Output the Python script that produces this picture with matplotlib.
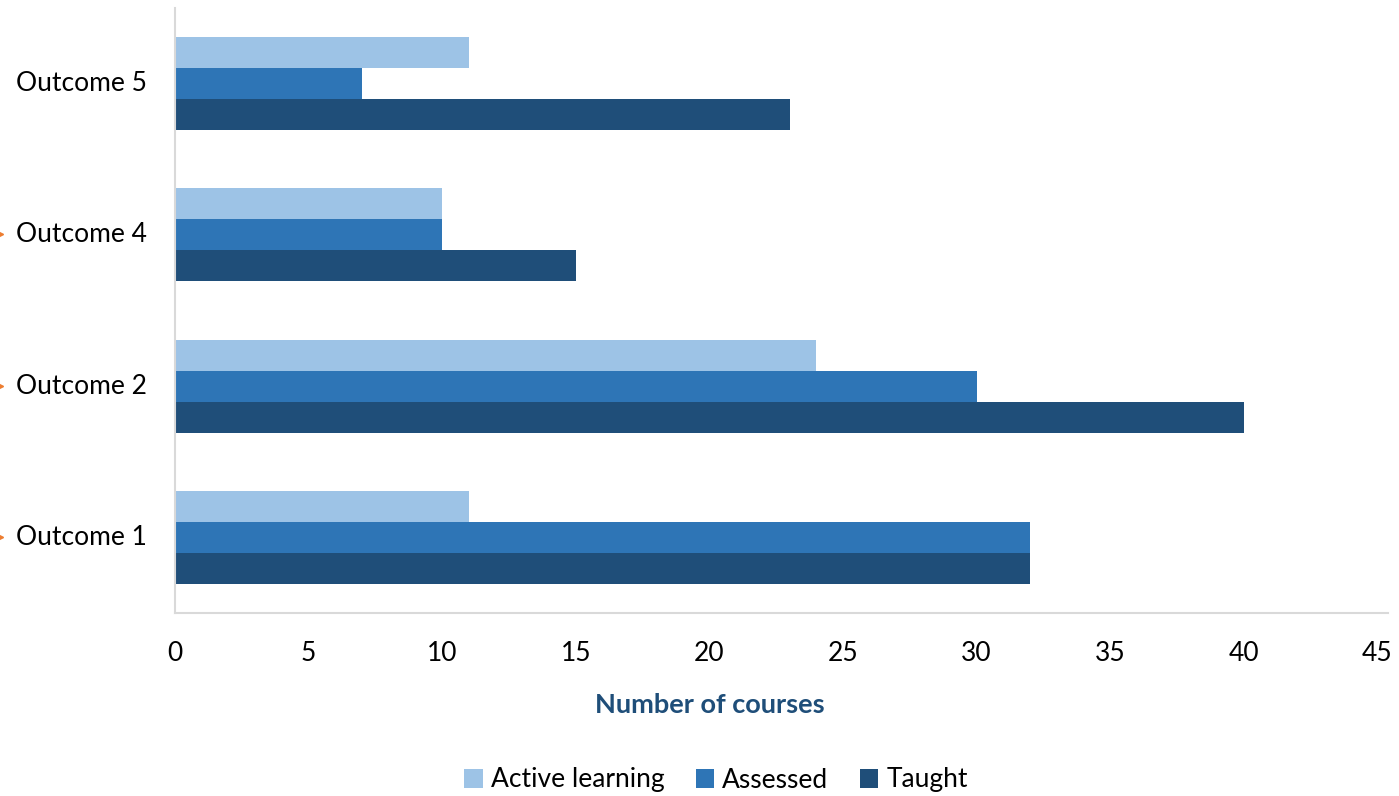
import matplotlib
matplotlib.use("Agg")
import matplotlib.pyplot as plt
import numpy as np

categories = ["Outcome 1", "Outcome 2", "Outcome 4", "Outcome 5"]
active_learning = [11, 24, 10, 11]
assessed = [32, 30, 10, 7]
taught = [32, 40, 15, 23]
series_names = ["Active learning", "Assessed", "Taught"]
colors = ["#9DC3E6", "#2E75B6", "#1F4E79"]
xticks = [0, 5, 10, 15, 20, 25, 30, 35, 40, 45]

plt.rcParams['font.family'] = ['Lato', 'DejaVu Sans']

fig = plt.figure(figsize=(13.99, 7.96), dpi=100)
ax = fig.add_axes([175/1399, 1 - 613/796, (1388-175)/1399, (613-8)/796])

y = np.arange(len(categories))
h = 0.205
series = [active_learning, assessed, taught]
offsets = [h, 0, -h]
for vals, off, c, name in zip(series, offsets, colors, series_names):
    ax.barh(y + off, vals, height=h, color=c, label=name, edgecolor='none')

ax.set_ylim(-0.5, 3.5)
ax.set_xlim(0, 45 * (1388-175) / (1377.5-175))
ax.set_xticks(xticks)
ax.set_xticklabels([str(t) for t in xticks], fontsize=19)
ax.set_yticks(y)
ax.set_yticklabels(categories, fontsize=19)
for lbl in ax.get_yticklabels():
    lbl.set_va('center')
ax.tick_params(length=0, pad=20, axis='y')
ax.tick_params(length=0, pad=20, axis='x')
for s in ['top', 'right']:
    ax.spines[s].set_visible(False)
for s in ['left', 'bottom']:
    ax.spines[s].set_color('#D9D9D9')
    ax.spines[s].set_linewidth(1.5)

fig.text(710/1399, 1 - 705/796, "Number of courses", fontsize=19.5, fontweight='bold',
         color='#1F4E79', ha='center', va='center')

# small orange markers at left edge
for yy in [234, 386, 537]:
    fig.lines.append(plt.Line2D([1/1399], [1 - yy/796], marker='>', markersize=3,
                                color='#ED7D31', linestyle='none', transform=fig.transFigure))

leg = fig.legend(loc='center', bbox_to_anchor=(716/1399, 1 - 780/796), ncol=3, frameon=False,
                 fontsize=19, handlelength=0.7, handleheight=0.7, handletextpad=0.3, columnspacing=1.2)

fig.savefig("out.png", dpi=100)
